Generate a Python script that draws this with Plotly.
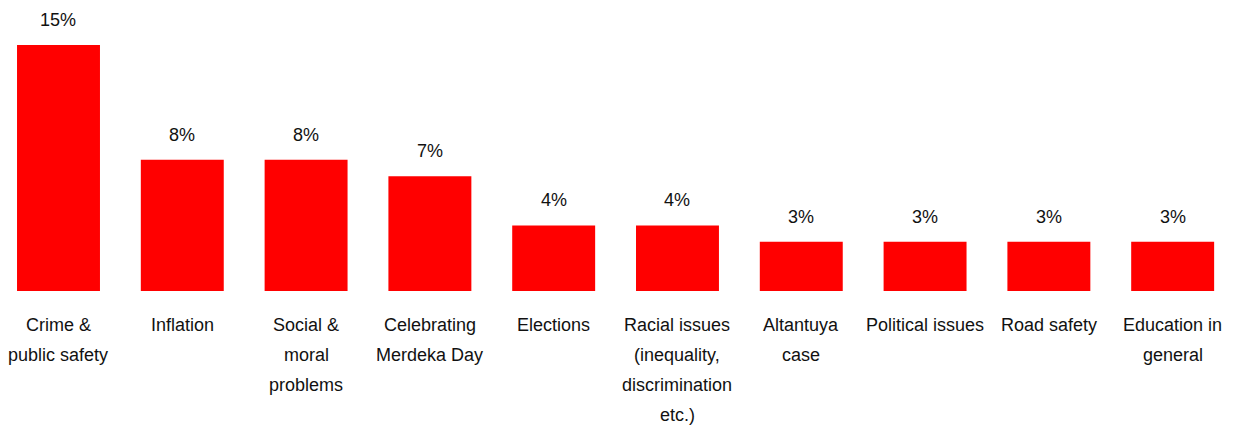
import plotly.graph_objects as go

categories = [
    ["Crime &", "public safety"],
    ["Inflation"],
    ["Social &", "moral", "problems"],
    ["Celebrating", "Merdeka Day"],
    ["Elections"],
    ["Racial issues", "(inequality,", "discrimination", "etc.)"],
    ["Altantuya", "case"],
    ["Political issues"],
    ["Road safety"],
    ["Education in", "general"],
]
values = [15, 8, 8, 7, 4, 4, 3, 3, 3, 3]
value_labels = ["15%", "8%", "8%", "7%", "4%", "4%", "3%", "3%", "3%", "3%"]

FONT = "Liberation Sans, Arial, sans-serif"
FSIZE = 18
LINE_GAP = 30

xs = list(range(len(values)))

fig = go.Figure(
    go.Bar(
        x=xs,
        y=values,
        marker=dict(color="#FF0000", line=dict(width=0)),
        width=0.67,
        hoverinfo="skip",
    )
)

annotations = []
for x, v, lab in zip(xs, values, value_labels):
    annotations.append(dict(
        x=x, y=v, xref="x", yref="y", text=lab, showarrow=False,
        yanchor="bottom", yshift=13,
        font=dict(family=FONT, size=FSIZE, color="#111111"),
    ))
for x, lines in zip(xs, categories):
    for k, line in enumerate(lines):
        annotations.append(dict(
            x=x, y=0, xref="x", yref="y", text=line, showarrow=False,
            yanchor="middle", yshift=-(34 + k * LINE_GAP),
            font=dict(family=FONT, size=FSIZE, color="#111111"),
        ))

fig.update_layout(
    width=1241, height=426,
    margin=dict(l=0, r=0, t=0, b=135),
    paper_bgcolor="white", plot_bgcolor="white",
    showlegend=False,
    bargap=0.33,
    xaxis=dict(range=[-0.4725, 9.552], showticklabels=False, showgrid=False,
               zeroline=False, showline=False, ticks=""),
    yaxis=dict(range=[0, 17.74], visible=False, showgrid=False, zeroline=False),
    annotations=annotations,
)

fig.write_html("out.html")
